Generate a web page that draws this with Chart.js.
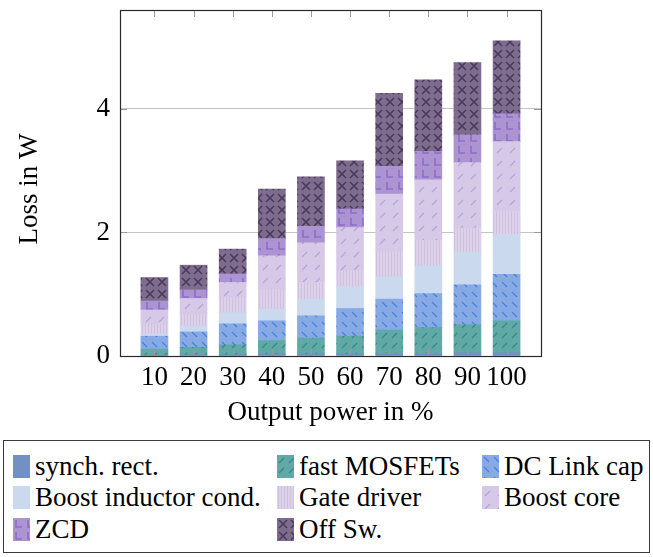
<!DOCTYPE html>
<html>
<head>
<meta charset="utf-8">
<script src="https://cdn.jsdelivr.net/npm/chart.js@4.4.1/dist/chart.umd.min.js"></script>
<style>
  html, body { margin: 0; padding: 0; background: #fff; }
  #wrap { position: relative; width: 653px; height: 557px; font-family: "Liberation Serif", "Times New Roman", serif; }
  #chartBox { position: absolute; left: 0; top: 0; width: 653px; height: 436px; }
  #legend { position: absolute; left: 3px; top: 440px; width: 645px; height: 111px; border: 1px solid #3a3a3a; }
  .item { position: absolute; display: flex; align-items: center; font-size: 27px; line-height: 30px; height: 30px; color: #000; white-space: nowrap; }
  .sw { display: inline-block; width: 17px; height: 23px; margin-right: 5px; }
</style>
</head>
<body>
<div id="wrap">
  <div id="chartBox"><canvas id="c" width="653" height="436"></canvas></div>
  <div id="legend"></div>
</div>
<script>
// Output power steps (%)
const outputPower = [10, 20, 30, 40, 50, 60, 70, 80, 90, 100];
// Loss contributions in W, bottom of the stack first
const synchRect    = [0.015, 0.02, 0.02, 0.03, 0.03, 0.03, 0.04, 0.04, 0.05, 0.05];
const fastMosfets  = [0.095, 0.12, 0.16, 0.22, 0.26, 0.29, 0.38, 0.42, 0.46, 0.52];
const dcLinkCap    = [0.21, 0.25, 0.34, 0.32, 0.36, 0.45, 0.50, 0.55, 0.64, 0.75];
const boostIndCond = [0.03, 0.095, 0.18, 0.185, 0.27, 0.35, 0.36, 0.45, 0.53, 0.65];
const gateDriver   = [0.17, 0.195, 0.25, 0.325, 0.27, 0.26, 0.41, 0.41, 0.39, 0.37];
const boostCore    = [0.225, 0.25, 0.24, 0.54, 0.64, 0.70, 0.93, 0.98, 1.06, 1.13];
const zcdLoss      = [0.145, 0.14, 0.14, 0.28, 0.27, 0.30, 0.45, 0.46, 0.45, 0.45];
const offSwitching = [0.38, 0.40, 0.40, 0.80, 0.80, 0.78, 1.18, 1.16, 1.17, 1.18];
// Axis ticks
const yTickValues = [0, 2, 4];
const xTickValues = outputPower;
// Series names
const seriesNames = ['synch. rect.', 'fast MOSFETs', 'DC Link cap', 'Boost inductor cond.',
                     'Gate driver', 'Boost core', 'ZCD', 'Off Sw.'];
const yTitle = 'Loss in W';
const xTitle = 'Output power in %';

// ---- fill patterns ----
function makeTile(size, base, draw) {
  const t = document.createElement('canvas');
  t.width = size; t.height = size;
  const g = t.getContext('2d');
  g.fillStyle = base;
  g.fillRect(0, 0, size, size);
  if (draw) draw(g, size);
  return t;
}
function seg(g, x1, y1, x2, y2) { g.beginPath(); g.moveTo(x1, y1); g.lineTo(x2, y2); g.stroke(); }

const tiles = [
  makeTile(8, '#7191c2'),
  makeTile(10, '#60a9a7', g => { g.strokeStyle = '#338a88'; g.lineWidth = 1.3; seg(g, 2, 8, 7, 3); }),
  makeTile(10, '#88aae4', g => { g.strokeStyle = '#4581dc'; g.lineWidth = 1.3; seg(g, 2, 2, 7, 7); }),
  makeTile(8, '#cad9ee'),
  makeTile(3, '#ddd1e9', g => { g.strokeStyle = '#cfc1e0'; g.lineWidth = 1; seg(g, 1.5, 0, 1.5, 3); }),
  makeTile(13, '#d6c8e7', g => { g.strokeStyle = '#b8a3d7'; g.lineWidth = 1.2; seg(g, 3, 10, 8, 5); }),
  makeTile(12, '#ab94d1', g => {
    g.strokeStyle = '#8d6dc8'; g.lineWidth = 1.6;
    g.beginPath(); g.moveTo(3, 2); g.lineTo(3, 9); g.lineTo(9, 9); g.stroke();
  }),
  makeTile(12, '#7d6c8e', g => { g.strokeStyle = '#49395a'; g.lineWidth = 1.6; seg(g, 2, 2, 10, 10); seg(g, 10, 2, 2, 10); })
];

const canvas = document.getElementById('c');
const ctx = canvas.getContext('2d');
const patterns = tiles.map(t => ctx.createPattern(t, 'repeat'));

const seriesValues = [synchRect, fastMosfets, dcLinkCap, boostIndCond, gateDriver, boostCore, zcdLoss, offSwitching];

const datasets = seriesValues.map((vals, i) => ({
  label: seriesNames[i],
  data: outputPower.map((p, k) => ({ x: p, y: vals[k] })),
  backgroundColor: patterns[i],
  borderWidth: 0,
  barThickness: 27,
  stack: 'losses'
}));

const serif = '"Liberation Serif", "Times New Roman", serif';
const fontSize = 27;

// frame around the plot with inward tick marks on all four sides, plus the rotated y label
const frameTicks = {
  id: 'frameTicks',
  afterDatasetsDraw(chart) {
    const { ctx, chartArea: a, scales: { x, y } } = chart;
    const L = 7;
    ctx.save();
    ctx.lineWidth = 1;
    ctx.strokeStyle = '#9a9a9a';
    const line = (x1, y1, x2, y2) => { ctx.beginPath(); ctx.moveTo(x1, y1); ctx.lineTo(x2, y2); ctx.stroke(); };
    x.ticks.forEach(t => {
      const px = Math.round(x.getPixelForValue(t.value)) + 0.5;
      line(px, a.bottom, px, a.bottom - L);
      line(px, a.top, px, a.top + L);
    });
    y.ticks.forEach(t => {
      const py = Math.round(y.getPixelForValue(t.value)) + 0.5;
      line(a.left, py, a.left + L, py);
      line(a.right, py, a.right - L, py);
    });
    ctx.strokeStyle = '#2a2a2a';
    ctx.lineWidth = 1.2;
    ctx.strokeRect(Math.round(a.left) + 0.5, Math.round(a.top) + 0.5,
                   Math.round(a.right) - Math.round(a.left), Math.round(a.bottom) - Math.round(a.top));
    // y axis label
    ctx.fillStyle = '#000';
    ctx.font = fontSize + 'px ' + serif;
    ctx.textAlign = 'center';
    ctx.textBaseline = 'middle';
    ctx.translate(30, (a.top + a.bottom) / 2 + 6);
    ctx.rotate(-Math.PI / 2);
    ctx.fillText(yTitle, 0, 0);
    ctx.restore();
  }
};

new Chart(canvas, {
  type: 'bar',
  data: { datasets },
  plugins: [frameTicks],
  options: {
    responsive: false,
    animation: false,
    layout: { padding: { left: 0, right: 112, top: 10, bottom: 0 } },
    plugins: { legend: { display: false }, tooltip: { enabled: false } },
    scales: {
      x: {
        type: 'linear',
        offset: false,
        min: 1.2,
        max: 108.8,
        stacked: true,
        grid: { display: false, drawTicks: false, offset: false },
        border: { display: false },
        afterBuildTicks: s => { s.ticks = xTickValues.map(v => ({ value: v })); },
        afterFit: s => { s.height = 80; s.paddingLeft = 0; s.paddingRight = 0; },
        ticks: {
          autoSkip: false, maxRotation: 0, padding: 6, color: '#000',
          font: { family: serif, size: fontSize },
          callback: v => String(v)
        },
        title: {
          display: true, text: xTitle, color: '#000',
          font: { family: serif, size: fontSize },
          padding: { top: 0, bottom: 7 }
        }
      },
      y: {
        type: 'linear',
        min: 0,
        max: 5.6,
        stacked: true,
        grid: {
          drawTicks: false,
          lineWidth: 1,
          color: c => (c.tick && c.tick.value === 0) ? 'rgba(0,0,0,0)' : '#c4c4c4'
        },
        border: { display: false },
        afterBuildTicks: s => { s.ticks = yTickValues.map(v => ({ value: v })); },
        afterFit: s => { s.width = 120; s.paddingTop = 0; s.paddingBottom = 0; },
        ticks: {
          padding: 10, color: '#000',
          font: { family: serif, size: fontSize },
          callback: v => String(v)
        },
        title: { display: false }
      }
    }
  }
});

// ---- legend box below the plot ----
const legend = document.getElementById('legend');
const colX = [9, 273, 478];
const rowY = [10, 41, 73];
seriesNames.forEach((name, i) => {
  const item = document.createElement('div');
  item.className = 'item';
  item.style.left = colX[i % 3] + 'px';
  item.style.top = rowY[Math.floor(i / 3)] + 'px';
  const sw = document.createElement('span');
  sw.className = 'sw';
  sw.style.backgroundImage = 'url(' + tiles[i].toDataURL() + ')';
  const txt = document.createElement('span');
  txt.textContent = name;
  item.appendChild(sw);
  item.appendChild(txt);
  legend.appendChild(item);
});
</script>
</body>
</html>
